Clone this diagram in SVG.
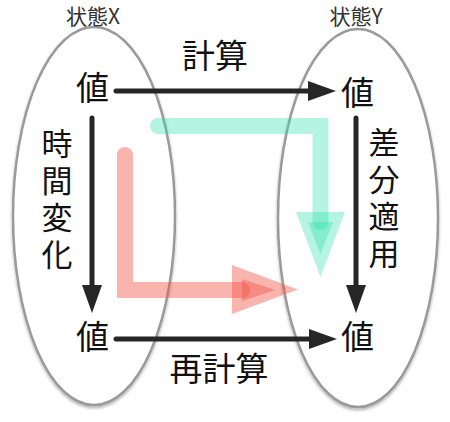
<svg xmlns="http://www.w3.org/2000/svg" width="450" height="422" viewBox="0 0 450 422">
<style>
.t{font-family:"Noto Sans CJK JP","Noto Sans",sans-serif;fill:#111;text-anchor:middle}
.big{font-size:33px}
.sm{font-size:21px;fill:#333}
.vt{font-size:31px;text-anchor:start;writing-mode:vertical-rl;letter-spacing:6px}
.ell{fill:#fff;stroke:#9a9a9a;stroke-width:2.5}
.blk{fill:none;stroke:#262626;stroke-width:5;stroke-linecap:round}
.red{fill:#f15547;fill-opacity:0.44}
.redl{fill:none;stroke:#f15547;stroke-opacity:0.44;stroke-width:16;stroke-linecap:round}
.grn{fill:#2fe0a8;fill-opacity:0.36}
.grnl{fill:none;stroke:#2fe0a8;stroke-opacity:0.36;stroke-width:16;stroke-linecap:round}
</style>
<defs>
<filter id="sh" x="-20%" y="-10%" width="140%" height="120%">
<feDropShadow dx="0" dy="2" stdDeviation="1.8" flood-color="#000" flood-opacity="0.3"/>
</filter>
<marker id="ah" markerUnits="userSpaceOnUse" viewBox="0 0 28 20" refX="18" refY="10" markerWidth="28" markerHeight="20" orient="auto">
<path d="M0,0 L28,10 L0,20 Z" fill="#262626"/>
</marker>
</defs>
<rect width="450" height="422" fill="#fff"/>
<g id="stateX">
<ellipse class="ell" cx="94" cy="216" rx="81" ry="189" filter="url(#sh)"/>
<text class="t sm" x="93" y="24">状態X</text>
</g>
<g id="stateY">
<ellipse class="ell" cx="358" cy="218" rx="80" ry="189" filter="url(#sh)"/>
<text class="t sm" x="356" y="24">状態Y</text>
</g>
<g id="highlights">
<g id="greenArrow">
<path class="grnl" d="M158,126 H320.5 V222" stroke-linejoin="miter"/>
<path class="grn" d="M308,222 H333 L320.5,254 Z"/>
<path class="grn" d="M296,212 H345 L320.5,277 Z"/>
</g>
<g id="redArrow">
<path class="redl" d="M125,155 V290 H242" stroke-linejoin="miter"/>
<path class="red" d="M242,279 L275,290 L242,301 Z"/>
<path class="red" d="M232,265 L298,289.5 L232,314 Z"/>
</g>
</g>
<g id="connectors">
<path class="blk" d="M116,91 H326" marker-end="url(#ah)"/>
<path class="blk" d="M116,339 H327" marker-end="url(#ah)"/>
<path class="blk" d="M92,118 V303" marker-end="url(#ah)"/>
<path class="blk" d="M356,118 V303" marker-end="url(#ah)"/>
</g>
<g id="labels">
<text class="t big" x="215" y="68">計算</text>
<text class="t big" x="219" y="381">再計算</text>
<text class="t vt" x="57" y="128">時間変化</text>
<text class="t vt" x="384" y="127">差分適用</text>
</g>
<g id="valueXa"><text class="t big" x="92.5" y="100">値</text></g>
<g id="valueYa"><text class="t big" x="357.5" y="105">値</text></g>
<g id="valueXb"><text class="t big" x="92.5" y="349">値</text></g>
<g id="valueYb"><text class="t big" x="357.5" y="349">値</text></g>
</svg>
